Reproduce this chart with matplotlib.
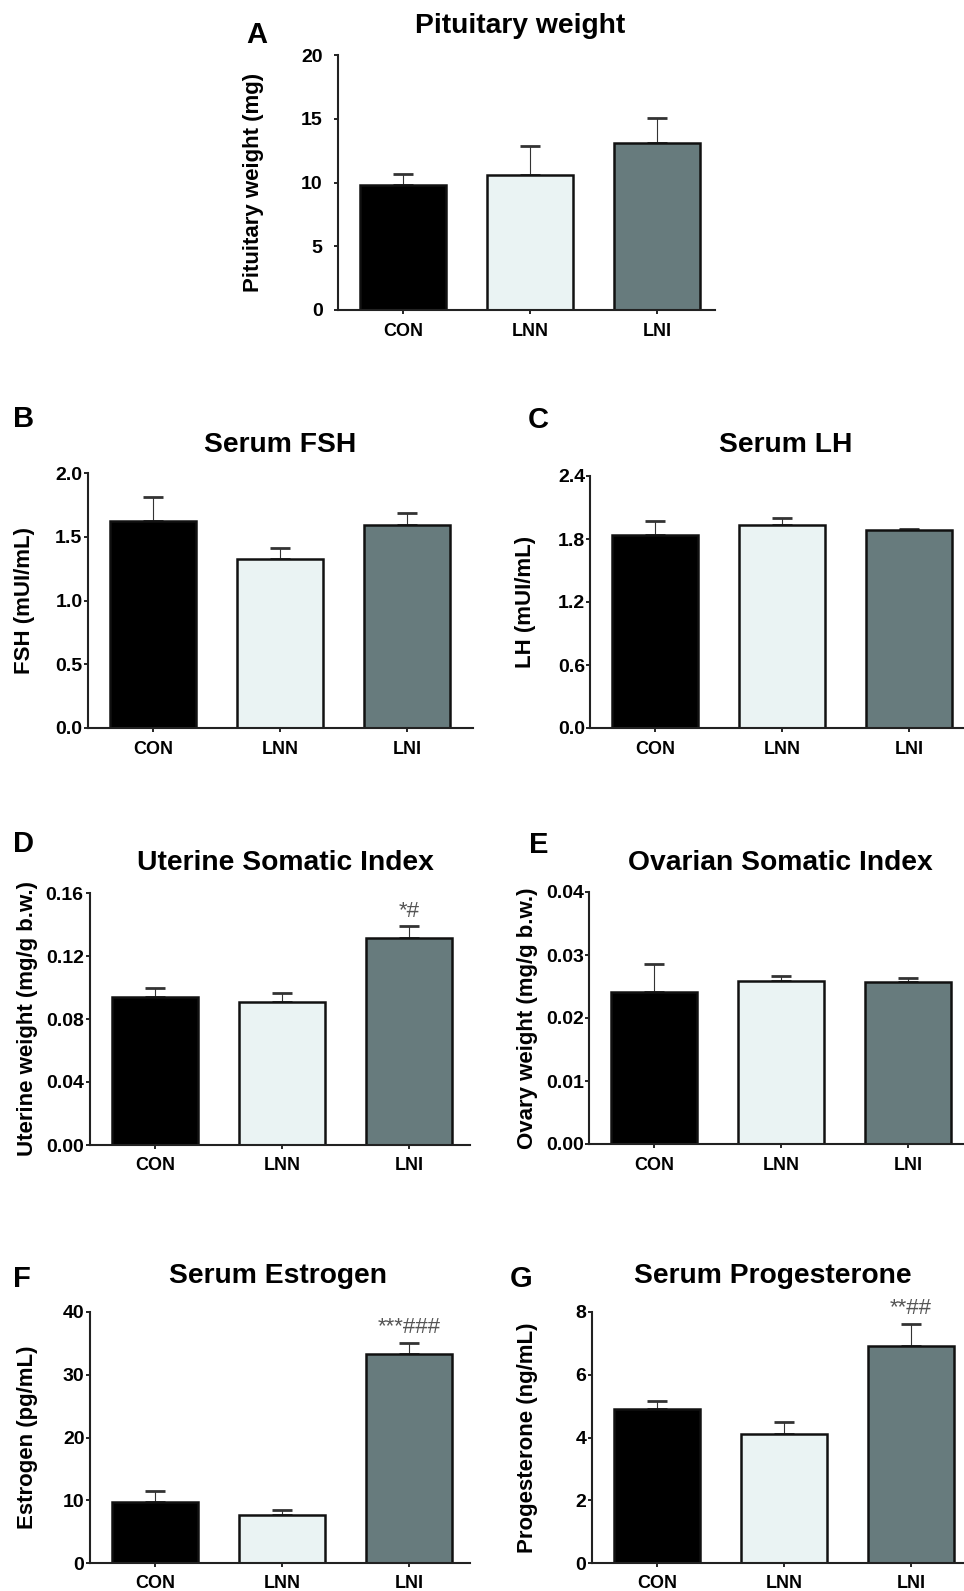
import numpy as np
import matplotlib
matplotlib.use("Agg")
import matplotlib.pyplot as plt

plt.rcParams['font.family'] = ['Liberation Sans', 'DejaVu Sans']
plt.rcParams['font.weight'] = 'bold'

groups = ["CON", "LNN", "LNI"]
bar_colors = ["#000000", "#eaf3f3", "#677b7d"]

pituitary_mean = [9.8, 10.6, 13.1]
pituitary_err = [0.9, 2.3, 1.95]
fsh_mean = [1.62, 1.325, 1.59]
fsh_err = [0.19, 0.085, 0.10]
lh_mean = [1.838, 1.933, 1.886]
lh_err = [0.136, 0.07, 0.014]
uterine_mean = [0.094, 0.0909, 0.1317]
uterine_err = [0.006, 0.0059, 0.0072]
ovary_mean = [0.0241, 0.0259, 0.0257]
ovary_err = [0.0044, 0.0008, 0.0007]
estrogen_mean = [9.8, 7.7, 33.3]
estrogen_err = [1.6, 0.7, 1.8]
progesterone_mean = [4.9, 4.1, 6.92]
progesterone_err = [0.27, 0.4, 0.71]

uterine_marks = ["", "", "*#"]
estrogen_marks = ["", "", "***###"]
progesterone_marks = ["", "", "**##"]

W, H = 964, 1591
fig = plt.figure(figsize=(W / 100, H / 100), dpi=100)

# panel layout in pixels: axis x, top y, zero y, right end x
panels = [
    dict(letter="A", title="Pituitary weight", ylabel="Pituitary weight (mg)",
         mean=pituitary_mean, err=pituitary_err, marks=None,
         ticks=[0, 5, 10, 15, 20], fmt="{:.0f}",
         box=(338, 55, 310, 715), title_xy=(520, 33), letter_xy=(246, 43),
         ylab_x=254, ypad=8),
    dict(letter="B", title="Serum FSH", ylabel="FSH (mUI/mL)",
         mean=fsh_mean, err=fsh_err, marks=None,
         ticks=[0, 0.5, 1.0, 1.5, 2.0], fmt="{:.1f}",
         box=(88, 473, 728, 473), title_xy=(280, 452), letter_xy=(13, 427),
         ylab_x=25, ypad=1),
    dict(letter="C", title="Serum LH", ylabel="LH (mUI/mL)",
         mean=lh_mean, err=lh_err, marks=None,
         ticks=[0, 0.6, 1.2, 1.8, 2.4], fmt="{:.1f}",
         box=(590, 476, 728, 964), title_xy=(786, 452), letter_xy=(528, 428),
         ylab_x=525, ypad=0.5),
    dict(letter="D", title="Uterine Somatic Index", ylabel="Uterine weight (mg/g b.w.)",
         mean=uterine_mean, err=uterine_err, marks=uterine_marks,
         ticks=[0, 0.04, 0.08, 0.12, 0.16], fmt="{:.2f}",
         box=(90, 893, 1145, 470), title_xy=(285, 870), letter_xy=(13, 852),
         ylab_x=28, ypad=1.5),
    dict(letter="E", title="Ovarian Somatic Index", ylabel="Ovary weight (mg/g b.w.)",
         mean=ovary_mean, err=ovary_err, marks=None,
         ticks=[0, 0.01, 0.02, 0.03, 0.04], fmt="{:.2f}",
         box=(589, 892, 1144, 964), title_xy=(780, 870), letter_xy=(529, 853),
         ylab_x=527, ypad=0.5),
    dict(letter="F", title="Serum Estrogen", ylabel="Estrogen (pg/mL)",
         mean=estrogen_mean, err=estrogen_err, marks=estrogen_marks,
         ticks=[0, 10, 20, 30, 40], fmt="{:.0f}",
         box=(90, 1312, 1563, 470), title_xy=(278, 1283), letter_xy=(13, 1287),
         ylab_x=27, ypad=1),
    dict(letter="G", title="Serum Progesterone", ylabel="Progesterone (ng/mL)",
         mean=progesterone_mean, err=progesterone_err, marks=progesterone_marks,
         ticks=[0, 2, 4, 6, 8], fmt="{:.0f}",
         box=(592, 1312, 1563, 964), title_xy=(773, 1283), letter_xy=(510, 1287),
         ylab_x=527, ypad=1),
]

spacing = 127.0
first = 65.0

for p in panels:
    x0, ytop, yzero, xr = p["box"]
    wpx = xr - x0
    ax = fig.add_axes([x0 / W, 1 - yzero / H, wpx / W, (yzero - ytop) / H])
    ax.patch.set_alpha(0)
    x = np.arange(len(groups))
    ax.errorbar(x, p["mean"], yerr=[np.zeros(3), p["err"]], fmt='none',
                ecolor='#333333', elinewidth=0.8, capsize=7, capthick=2, zorder=1)
    ax.bar(x, p["mean"], width=0.68, color=bar_colors, edgecolor='#111111',
           linewidth=1.8, zorder=2)
    if p["marks"]:
        for xi, m, e, s in zip(x, p["mean"], p["err"], p["marks"]):
            if s:
                ax.annotate(s, (xi, m + e), xytext=(0, 7), textcoords='offset points',
                            ha='center', va='baseline', fontsize=16, fontweight='normal',
                            color='#555555')
    ax.set_xlim(-first / spacing, -first / spacing + wpx / spacing)
    ax.set_ylim(0, p["ticks"][-1])
    ax.set_yticks(p["ticks"])
    ax.set_yticklabels([p["fmt"].format(t) for t in p["ticks"]])
    ax.set_xticks(x)
    ax.set_xticklabels(groups)
    for s in ["top", "right"]:
        ax.spines[s].set_visible(False)
    for s in ["left", "bottom"]:
        ax.spines[s].set_linewidth(1.5)
        ax.spines[s].set_color('#222222')
    ax.tick_params(axis='y', length=3, width=1.2, pad=p["ypad"], labelsize=14)
    ax.tick_params(axis='x', length=3, width=1.2, pad=6, labelsize=13)
    ax.set_ylabel(p["ylabel"], fontsize=16, fontweight='bold', va='center')
    ax.yaxis.set_label_coords((p["ylab_x"] - x0) / wpx, 0.5)
    fig.text(p["title_xy"][0] / W, 1 - p["title_xy"][1] / H, p["title"],
             ha='center', va='baseline', fontsize=20.3, fontweight='bold')
    fig.text(p["letter_xy"][0] / W, 1 - p["letter_xy"][1] / H, p["letter"],
             ha='left', va='baseline', fontsize=21, fontweight='bold')

fig.savefig("out.png", dpi=100)
